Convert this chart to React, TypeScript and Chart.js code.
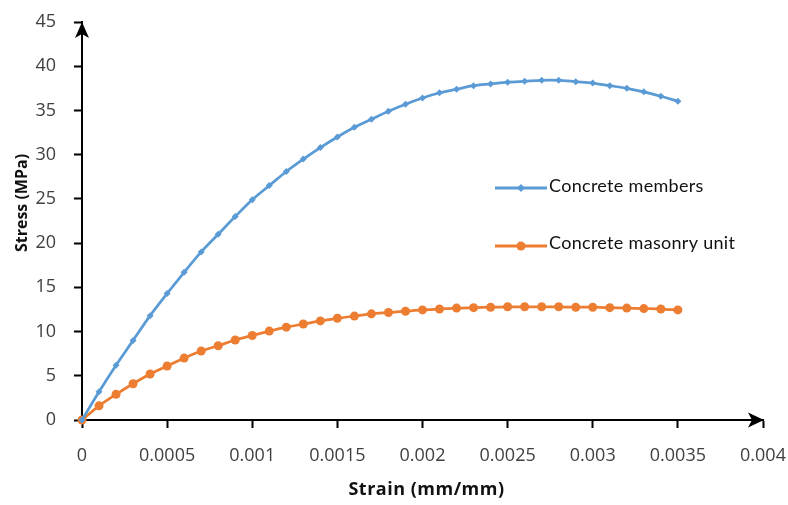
import React, { useEffect, useRef } from "react";
import { Chart, registerables } from "chart.js";

Chart.register(...registerables);

const strain = [
  0, 0.0001, 0.0002, 0.0003, 0.0004, 0.0005, 0.0006, 0.0007, 0.0008, 0.0009,
  0.001, 0.0011, 0.0012, 0.0013, 0.0014, 0.0015, 0.0016, 0.0017, 0.0018, 0.0019,
  0.002, 0.0021, 0.0022, 0.0023, 0.0024, 0.0025, 0.0026, 0.0027, 0.0028, 0.0029,
  0.003, 0.0031, 0.0032, 0.0033, 0.0034, 0.0035,
];

const concreteMembers = [
  0, 3.2, 6.2, 9.0, 11.8, 14.3, 16.7, 19.0, 21.0, 23.0,
  24.9, 26.5, 28.1, 29.5, 30.8, 32.0, 33.1, 34.0, 34.9, 35.7,
  36.4, 37.0, 37.4, 37.8, 38.0, 38.2, 38.3, 38.4, 38.4, 38.25,
  38.1, 37.8, 37.5, 37.1, 36.6, 36.05,
];

const masonryUnit = [
  0, 1.6, 2.9, 4.1, 5.2, 6.1, 7.0, 7.8, 8.4, 9.05,
  9.55, 10.05, 10.5, 10.85, 11.2, 11.5, 11.75, 12.0, 12.15, 12.3,
  12.45, 12.55, 12.65, 12.7, 12.75, 12.8, 12.8, 12.8, 12.8, 12.75,
  12.75, 12.7, 12.65, 12.6, 12.55, 12.45,
];

const seriesNames = ["Concrete members", "Concrete masonry unit"];
const seriesColors = ["#5B9BD5", "#ED7D31"];
const xTitle = "Strain (mm/mm)";
const yTitle = "Stress (MPa)";

const arrowPlugin = {
  id: "axisArrows",
  afterDraw(chart: any) {
    const { ctx, chartArea } = chart;
    const { left, right, top, bottom } = chartArea;
    ctx.save();
    ctx.fillStyle = "#000";
    // y-axis arrow (pointing up)
    ctx.beginPath();
    ctx.moveTo(left, top);
    ctx.lineTo(left + 7, top + 16);
    ctx.lineTo(left, top + 12);
    ctx.lineTo(left - 7, top + 16);
    ctx.closePath();
    ctx.fill();
    // x-axis arrow (pointing right)
    ctx.beginPath();
    ctx.moveTo(right + 1, bottom);
    ctx.lineTo(right - 15, bottom - 7.5);
    ctx.lineTo(right - 11, bottom);
    ctx.lineTo(right - 15, bottom + 7.5);
    ctx.closePath();
    ctx.fill();
    ctx.restore();
  },
};

const textPlugin = {
  id: "insideLegendAndTitles",
  afterDraw(chart: any) {
    const { ctx, chartArea } = chart;
    ctx.save();
    // y-axis title
    ctx.save();
    ctx.translate(22, 203);
    ctx.rotate(-Math.PI / 2);
    ctx.fillStyle = "#111";
    ctx.font = "bold 16px 'Open Sans'";
    ctx.textAlign = "center";
    ctx.textBaseline = "middle";
    ctx.fillText(yTitle, 0, 0);
    ctx.restore();

    // x-axis title
    ctx.save();
    ctx.fillStyle = "#111";
    ctx.font = "bold 18px 'Open Sans'";
    ctx.textAlign = "center";
    ctx.textBaseline = "middle";
    (ctx as any).letterSpacing = "0.5px";
    ctx.fillText(xTitle, (chartArea.left + chartArea.right) / 2 + 4, 490);
    ctx.restore();

    const x0 = 495;
    const x1 = 547;
    const lineYs = [188, 246];
    const textYs = [186, 243];
    seriesNames.forEach((name, i) => {
      const y = lineYs[i];
      const color = seriesColors[i];
      ctx.strokeStyle = color;
      ctx.lineWidth = 3;
      ctx.beginPath();
      ctx.moveTo(x0, y);
      ctx.lineTo(x1, y);
      ctx.stroke();
      ctx.fillStyle = color;
      const mx = (x0 + x1) / 2;
      ctx.beginPath();
      if (i === 0) {
        ctx.moveTo(mx, y - 4);
        ctx.lineTo(mx + 4, y);
        ctx.lineTo(mx, y + 4);
        ctx.lineTo(mx - 4, y);
        ctx.closePath();
      } else {
        ctx.arc(mx, y, 4.5, 0, Math.PI * 2);
      }
      ctx.fill();
      ctx.fillStyle = "#111";
      ctx.font = "18px Lato";
      ctx.textBaseline = "middle";
      ctx.textAlign = "left";
      (ctx as any).letterSpacing = "0.3px";
      ctx.fillText(name, 549, textYs[i]);
      (ctx as any).letterSpacing = "0px";
    });
    ctx.restore();
  },
};

export default function App() {
  const canvasRef = useRef<HTMLCanvasElement | null>(null);

  useEffect(() => {
    const canvas = canvasRef.current;
    if (!canvas) return;
    const tickFont = { family: "'Open Sans'", size: 18 };
    const chart = new Chart(canvas, {
      type: "line",
      data: {
        datasets: [
          {
            label: seriesNames[0],
            data: strain.map((x, i) => ({ x, y: concreteMembers[i] })),
            borderColor: seriesColors[0],
            backgroundColor: seriesColors[0],
            borderWidth: 2.75,
            pointStyle: "rectRot",
            pointRadius: 3.5,
            pointBorderWidth: 0,
            tension: 0.3,
            clip: false as any,
          },
          {
            label: seriesNames[1],
            data: strain.map((x, i) => ({ x, y: masonryUnit[i] })),
            borderColor: seriesColors[1],
            backgroundColor: seriesColors[1],
            borderWidth: 2.75,
            pointStyle: "circle",
            pointRadius: 4.5,
            pointBorderWidth: 0,
            tension: 0.3,
            clip: false as any,
          },
        ],
      },
      options: {
        responsive: false,
        animation: false,
        layout: { padding: { top: 22, right: 25, left: 0, bottom: 0 } },
        plugins: {
          legend: { display: false },
          tooltip: { enabled: false },
        },
        scales: {
          x: {
            type: "linear",
            min: 0,
            max: 0.004,
            afterFit(scale: any) {
              scale.height = 85;
              scale.paddingLeft = 0;
              scale.paddingRight = 0;
            },
            ticks: {
              stepSize: 0.0005,
              color: "#404040",
              font: tickFont,
              padding: 17,
              maxRotation: 0,
              autoSkip: false,
              callback: (v: any) => String(+Number(v).toFixed(4)),
            },
            grid: {
              display: true,
              drawOnChartArea: false,
              drawTicks: true,
              tickLength: 8,
              tickWidth: 2,
              tickColor: "#000",
            },
            border: { display: true, color: "#000", width: 2 },
            title: { display: false },
          },
          y: {
            type: "linear",
            min: 0,
            max: 45,
            afterFit(scale: any) {
              scale.width = 82;
              scale.paddingTop = 0;
              scale.paddingBottom = 0;
            },
            ticks: {
              stepSize: 5,
              color: "#404040",
              font: tickFont,
              padding: 18,
            },
            grid: {
              display: true,
              drawOnChartArea: false,
              drawTicks: true,
              tickLength: 8,
              tickWidth: 2,
              tickColor: "#000",
            },
            border: { display: true, color: "#000", width: 2 },
            title: { display: false },
          },
        },
      },
      plugins: [arrowPlugin, textPlugin],
    });
    return () => chart.destroy();
  }, []);

  return (
    <div style={{ position: "fixed", left: 0, top: 0, width: 788, height: 505, background: "#fff" }}>
      <canvas ref={canvasRef} width={788} height={505} />
    </div>
  );
}
